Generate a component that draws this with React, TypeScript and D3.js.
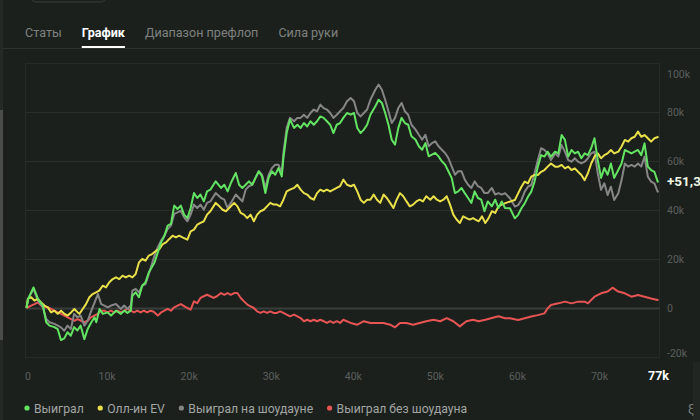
import { useRef, useEffect } from 'react';
import * as d3 from 'd3';

type Pt = [number, number]; // [hands (k), result (k)]

const tabs = ['Статы', 'График', 'Диапазон префлоп', 'Сила руки'];
const activeTab = 'График';
const xTicks = [0, 10, 20, 30, 40, 50, 60, 70];
const yTicks = [-20, 0, 20, 40, 60, 80, 100];
const lastHand = 77;
const currentLabel = '+51,3k';

// Выиграл
const won: Pt[] = [
    [0, 0], [0.2, 3.7], [0.85, 8.4], [1.4, 3.7], [2.0, 1.0], [2.4, -5.8], [2.8, -7.2], [3.4, -7.8], [3.8, -8.6], [4.2, -13.1],
    [4.6, -12.4], [5.0, -9.9], [5.4, -11.3], [5.8, -7.8], [6.2, -9.2], [6.6, -7.2], [7.05, -12.7], [7.45, -8.6], [7.9, -5.8], [8.3, -3.8],
    [8.5, -5.8], [8.9, -0.4], [9.3, -2.4], [9.9, -1.8], [10.3, -3.1], [10.9, -1.1], [11.5, -2.4], [11.9, -1.1], [12.3, -2.0], [12.7, -1.1],
    [12.9, 5.0], [13.3, 6.4], [13.7, 4.4], [14.1, 9.1], [14.5, 10.5], [14.9, 14.5], [15.6, 18.6], [16.0, 22.7], [16.4, 26.8], [16.8, 29.5],
    [17.2, 33.6], [17.6, 34.3], [18.0, 41.8], [18.4, 40.4], [18.8, 41.8], [19.2, 38.1], [19.6, 36.7], [20.0, 40.8], [20.4, 46.9], [20.8, 44.9],
    [21.2, 46.3], [21.6, 43.5], [22.0, 47.6], [22.4, 48.3], [23.05, 51.7], [23.7, 49.0], [24.1, 50.3], [24.5, 47.6], [24.9, 51.0], [25.5, 55.1],
    [25.9, 50.3], [26.3, 49.0], [26.7, 50.3], [27.1, 51.7], [27.5, 50.3], [27.9, 53.1], [28.3, 55.8], [28.7, 53.7], [29.1, 46.9], [29.5, 53.1],
    [29.9, 55.8], [30.3, 54.4], [30.7, 57.1], [31.1, 53.7], [31.3, 61.2], [31.7, 71.4], [32.1, 76.9], [32.6, 73.5], [33.0, 74.8], [33.4, 73.5],
    [33.8, 75.5], [34.2, 74.1], [34.6, 76.2], [35.0, 74.8], [35.4, 76.2], [35.8, 78.2], [36.2, 77.6], [36.6, 76.2], [37.0, 74.8], [37.4, 71.4],
    [37.8, 74.8], [38.2, 75.5], [38.6, 77.6], [39.05, 79.6], [39.5, 78.9], [39.9, 79.6], [40.3, 73.5], [40.7, 71.4], [41.1, 72.8], [41.5, 74.8],
    [41.9, 78.9], [42.5, 82.3], [42.9, 85.0], [43.3, 83.7], [43.7, 79.6], [44.1, 74.8], [44.5, 68.7], [44.9, 66.7], [45.3, 73.5], [45.7, 77.6],
    [46.1, 75.5], [46.5, 74.8], [46.9, 70.1], [47.4, 68.7], [47.8, 66.0], [48.2, 64.6], [48.6, 67.3], [49.0, 61.9], [49.4, 62.6], [49.8, 63.3],
    [50.2, 61.9], [50.6, 59.9], [51.0, 58.5], [51.4, 55.8], [51.8, 53.1], [52.2, 46.9], [52.6, 47.6], [53.0, 49.0], [53.4, 46.9], [53.8, 44.9],
    [54.2, 42.9], [54.6, 47.6], [55.0, 44.9], [55.4, 44.2], [55.8, 39.5], [56.2, 43.5], [56.7, 41.5], [57.1, 44.2], [57.5, 40.8], [57.9, 43.5],
    [58.3, 40.8], [58.9, 40.7], [59.5, 36.6], [59.9, 38.0], [60.3, 40.7], [60.7, 42.7], [61.1, 45.4], [61.5, 47.5], [61.9, 51.6], [62.3, 57.7],
    [62.7, 62.4], [63.1, 61.8], [63.5, 63.8], [63.9, 61.8], [64.4, 63.8], [64.8, 63.1], [65.2, 70.6], [65.6, 68.6], [66.0, 61.8], [66.4, 64.5],
    [66.8, 63.1], [67.2, 63.8], [67.6, 61.1], [68.0, 63.1], [68.4, 62.4], [68.8, 65.2], [69.2, 69.3], [69.6, 60.4], [70.0, 53.1], [70.4, 57.1],
    [70.8, 54.4], [71.2, 59.0], [71.6, 53.1], [72.1, 56.3], [72.5, 59.0], [72.9, 64.5], [73.3, 63.8], [73.7, 63.1], [74.1, 63.8], [74.5, 64.5],
    [74.9, 62.4], [75.3, 67.2], [75.7, 57.7], [76.1, 56.3], [76.5, 55.6], [76.9, 51.6], [77, 51.3],
];

// Олл-ин EV
const allInEv: Pt[] = [
    [0, 0], [0.16, 3.7], [0.57, 4.4], [0.97, 3.0], [1.38, 3.7], [1.78, 2.3], [2.19, 1.0], [2.59, 0.3], [3.0, -1.8], [3.4, -1.1],
    [3.81, -2.4], [4.21, -1.1], [4.62, -2.4], [5.02, -3.1], [5.43, -1.8], [5.83, -0.4], [6.24, -1.8], [6.44, -2.4], [6.85, -0.4], [7.25, 1.6],
    [7.66, 4.4], [8.06, 5.7], [8.47, 6.4], [8.87, 7.1], [9.28, 9.1], [9.68, 8.4], [10.09, 10.5], [10.5, 11.8], [10.9, 12.5], [11.3, 11.8],
    [11.7, 13.2], [12.1, 12.5], [12.5, 13.2], [12.9, 12.5], [13.3, 13.9], [13.7, 18.6], [14.1, 20.0], [14.5, 19.3], [14.9, 21.4], [15.3, 22.0],
    [15.8, 23.4], [16.2, 24.1], [16.6, 26.1], [17.0, 26.8], [17.4, 28.2], [17.8, 29.5], [18.2, 28.8], [18.6, 29.5], [19.0, 28.8], [19.6, 27.9],
    [20.0, 31.3], [20.4, 32.0], [20.8, 34.0], [21.2, 34.7], [21.6, 35.4], [22.0, 38.1], [22.4, 39.5], [23.05, 42.9], [23.5, 41.5], [23.9, 40.1],
    [24.3, 39.5], [24.7, 40.8], [25.3, 42.9], [25.7, 41.5], [26.1, 38.8], [26.5, 38.1], [26.9, 36.7], [27.3, 38.1], [27.7, 35.4], [28.1, 38.1],
    [28.5, 39.5], [28.9, 40.1], [29.3, 41.5], [29.7, 42.9], [30.1, 42.2], [30.5, 42.2], [30.9, 41.5], [31.3, 44.2], [31.7, 47.6], [32.1, 48.3],
    [32.6, 49.0], [33.0, 50.3], [33.4, 48.3], [33.8, 46.9], [34.2, 46.3], [34.6, 44.9], [35.0, 44.2], [35.4, 46.9], [35.8, 48.3], [36.2, 47.6],
    [36.6, 48.3], [37.0, 47.6], [37.4, 48.3], [37.8, 49.0], [38.2, 49.7], [38.6, 52.4], [39.05, 50.3], [39.5, 49.7], [39.9, 50.3], [40.3, 47.6],
    [40.7, 44.2], [41.1, 42.9], [41.5, 44.2], [41.9, 44.2], [42.3, 46.3], [42.7, 44.2], [43.1, 42.9], [43.5, 46.3], [43.9, 44.9], [44.3, 42.9],
    [44.7, 40.8], [45.1, 44.2], [45.5, 46.9], [45.9, 45.6], [46.3, 43.5], [46.7, 41.5], [47.1, 42.2], [47.5, 43.5], [47.9, 44.2], [48.3, 43.5],
    [48.7, 45.6], [49.2, 44.2], [49.6, 45.6], [50.0, 44.2], [50.4, 43.5], [50.8, 44.2], [51.2, 45.6], [51.6, 42.2], [52.0, 38.1], [52.4, 36.1],
    [52.8, 34.7], [53.2, 37.4], [53.6, 36.7], [54.0, 36.1], [54.4, 36.7], [54.7, 36.1], [55.1, 35.4], [55.5, 37.4], [55.9, 34.7], [56.3, 36.7],
    [56.7, 39.5], [57.1, 38.8], [57.5, 41.5], [57.9, 42.2], [58.5, 43.0], [59.5, 44.1], [59.9, 46.8], [60.3, 49.5], [60.7, 51.6], [61.1, 50.9],
    [61.5, 53.6], [61.9, 54.3], [62.3, 54.3], [62.7, 55.6], [63.1, 56.3], [63.5, 57.7], [63.9, 59.0], [64.4, 57.7], [64.8, 57.7], [65.2, 58.4],
    [65.6, 57.0], [66.0, 57.7], [66.4, 56.3], [66.8, 57.0], [67.2, 55.6], [67.6, 54.3], [68.0, 52.2], [68.4, 55.0], [68.8, 59.0], [69.2, 61.8],
    [69.6, 63.1], [70.0, 61.1], [70.4, 62.4], [70.8, 63.1], [71.2, 64.5], [71.6, 63.1], [72.1, 63.8], [72.5, 65.9], [72.9, 68.6], [73.3, 67.9],
    [73.7, 69.3], [74.1, 69.9], [74.5, 72.0], [74.9, 69.9], [75.3, 70.6], [75.7, 69.3], [76.1, 67.9], [76.5, 69.3], [77, 69.9],
];

// Выиграл на шоудауне
const showdown: Pt[] = [
    [0, 0], [0.2, 3.7], [0.85, 7.8], [1.4, 3.0], [2.0, 0.3], [2.4, -4.5], [2.8, -5.8], [3.4, -6.5], [3.8, -7.2], [4.2, -7.9],
    [4.6, -9.3], [5.0, -7.2], [5.4, -8.6], [5.8, -2.4], [6.2, -3.8], [6.6, -3.1], [7.05, -7.2], [7.45, -5.2], [7.9, -1.1], [8.3, 2.3],
    [8.7, 5.7], [9.1, 1.6], [9.5, 1.0], [9.9, 0.3], [10.3, 1.0], [10.9, 1.6], [11.5, -0.4], [11.9, 1.0], [12.3, -0.4], [12.7, 1.0],
    [12.9, 7.1], [13.3, 7.8], [13.7, 6.4], [14.1, 9.1], [14.5, 9.8], [14.9, 13.9], [15.6, 21.4], [16.0, 24.8], [16.4, 27.5], [16.8, 29.5],
    [17.2, 32.2], [17.6, 33.6], [18.0, 38.4], [18.4, 39.0], [18.8, 39.7], [19.2, 37.0], [19.6, 35.4], [20.0, 38.1], [20.4, 42.2], [20.8, 40.8],
    [21.2, 42.2], [21.6, 40.1], [22.0, 42.9], [22.4, 43.5], [23.05, 46.9], [23.7, 44.9], [24.1, 44.2], [24.5, 40.8], [24.9, 42.9], [25.5, 46.3],
    [25.9, 44.9], [26.3, 43.5], [26.7, 48.3], [27.1, 49.7], [27.5, 50.3], [27.9, 53.1], [28.3, 55.8], [28.7, 54.4], [29.1, 49.0], [29.5, 54.4],
    [29.9, 57.1], [30.3, 58.5], [30.7, 58.5], [31.1, 55.1], [31.3, 63.3], [31.7, 73.5], [32.1, 77.6], [32.6, 76.2], [33.0, 77.6], [33.4, 77.6],
    [33.8, 78.9], [34.2, 77.6], [34.6, 79.6], [35.0, 81.0], [35.4, 80.3], [35.8, 83.0], [36.2, 81.6], [36.6, 81.0], [37.0, 79.6], [37.4, 77.6],
    [37.8, 78.9], [38.2, 80.3], [38.6, 81.6], [39.05, 84.4], [39.5, 85.7], [39.9, 84.4], [40.3, 79.6], [40.7, 78.2], [41.1, 79.6], [41.5, 81.0],
    [41.9, 85.0], [42.5, 89.1], [42.9, 91.2], [43.3, 89.1], [43.7, 85.0], [44.1, 80.3], [44.5, 75.5], [44.9, 77.6], [45.3, 81.6], [45.7, 83.7],
    [46.1, 80.3], [46.5, 78.9], [46.9, 74.8], [47.4, 72.8], [47.8, 70.7], [48.2, 68.7], [48.6, 70.7], [49.0, 66.0], [49.4, 67.3], [49.8, 68.0],
    [50.2, 66.0], [50.6, 64.6], [51.0, 63.3], [51.4, 61.2], [51.8, 57.8], [52.2, 54.4], [52.6, 55.8], [53.0, 55.8], [53.4, 52.4], [53.8, 50.3],
    [54.2, 49.0], [54.6, 51.7], [55.0, 49.7], [55.4, 49.0], [55.8, 46.9], [56.2, 46.9], [56.7, 49.0], [57.1, 46.3], [57.5, 46.9], [57.9, 46.3],
    [58.3, 46.9], [58.9, 44.8], [59.5, 41.4], [59.9, 42.0], [60.3, 44.1], [60.7, 47.5], [61.1, 49.5], [61.5, 50.2], [61.9, 55.0], [62.3, 60.4],
    [62.7, 65.2], [63.1, 64.5], [63.5, 63.1], [63.9, 60.4], [64.4, 63.1], [64.8, 61.8], [65.2, 66.5], [65.6, 63.8], [66.0, 60.4], [66.4, 59.7],
    [66.8, 61.1], [67.2, 59.7], [67.6, 59.0], [68.0, 59.7], [68.4, 61.1], [68.8, 63.1], [69.2, 63.8], [69.6, 55.0], [70.0, 48.2], [70.4, 50.9],
    [70.8, 46.1], [71.2, 49.5], [71.6, 44.1], [72.1, 46.8], [72.5, 52.2], [72.9, 59.0], [73.3, 57.7], [73.7, 58.4], [74.1, 57.7], [74.5, 59.0],
    [74.9, 57.7], [75.3, 61.8], [75.7, 53.6], [76.1, 51.6], [76.5, 50.9], [76.9, 47.5], [77, 47.8],
];

// Выиграл без шоудауна
const nonShowdown: Pt[] = [
    [0, 0], [0.16, 0.3], [0.57, 1.0], [0.97, 1.6], [1.38, 2.3], [1.78, 1.0], [2.19, 0.3], [2.59, 0.3], [3.0, -0.4], [3.4, -1.1],
    [3.81, -1.8], [4.21, -2.4], [4.62, -3.1], [5.02, -3.8], [5.43, -4.5], [5.83, -5.2], [6.24, -4.5], [6.64, -5.2], [7.05, -5.8], [7.45, -5.2],
    [7.86, -3.8], [8.26, -3.1], [8.67, -2.4], [9.07, -1.1], [9.48, -1.1], [9.88, -1.8], [10.29, -1.1], [10.7, -1.8], [11.1, -1.1], [11.5, -1.8],
    [11.9, -1.1], [12.3, -0.4], [12.7, -1.1], [13.1, -1.8], [13.5, -1.1], [13.9, -1.8], [14.3, -1.1], [14.7, -1.8], [15.1, -1.1], [15.5, -1.5],
    [16.0, -3.1], [16.4, -1.8], [16.8, -1.1], [17.2, -0.4], [17.6, -1.1], [18.0, 0.3], [18.4, 1.0], [18.8, 1.6], [19.2, 0.8], [19.6, 0],
    [20.0, -0.7], [20.4, 2.7], [20.8, 2.0], [21.2, 4.1], [21.6, 4.8], [22.0, 5.4], [22.4, 4.8], [22.8, 4.1], [23.2, 4.8], [23.7, 6.1],
    [24.1, 5.4], [24.5, 6.1], [24.9, 5.4], [25.3, 6.1], [25.7, 6.1], [26.1, 4.1], [26.5, 2.7], [26.9, 1.4], [27.3, 0.7], [27.7, 0],
    [28.1, -1.4], [28.5, -2.0], [28.9, -1.4], [29.3, -2.0], [29.7, -1.4], [30.1, -2.0], [30.5, -2.0], [30.9, -1.4], [31.3, -2.0], [31.7, -2.7],
    [32.1, -3.4], [32.6, -2.7], [33.0, -3.4], [33.4, -4.1], [33.8, -5.4], [34.2, -4.8], [34.6, -5.4], [35.0, -4.8], [35.4, -5.4], [35.8, -4.8],
    [36.2, -5.4], [36.6, -6.1], [37.0, -5.4], [37.4, -6.1], [37.8, -5.4], [38.2, -6.1], [38.6, -4.8], [39.5, -6.1], [40.3, -6.8], [41.1, -5.4],
    [41.9, -6.1], [42.7, -6.1], [43.5, -6.1], [44.3, -6.8], [44.9, -7.9], [45.5, -6.1], [46.3, -6.1], [47.1, -6.8], [47.9, -6.1], [48.7, -5.4],
    [49.6, -4.8], [50.4, -5.4], [51.2, -4.1], [52.0, -5.4], [52.8, -7.5], [53.6, -5.4], [54.4, -4.8], [55.1, -5.4], [55.9, -4.8], [56.7, -4.1],
    [57.5, -3.4], [58.3, -4.2], [58.9, -4.2], [59.9, -4.9], [60.7, -4.2], [61.5, -3.5], [62.3, -2.9], [63.1, -2.2], [63.5, -0.1], [63.9, 1.2],
    [64.8, 1.9], [65.6, 2.6], [66.4, 1.9], [67.2, 2.6], [68.0, 2.6], [68.4, 1.9], [69.2, 4.6], [70.0, 6.0], [70.8, 6.7], [71.4, 8.3],
    [72.1, 6.7], [72.9, 6.0], [73.7, 4.6], [74.5, 5.3], [75.3, 4.6], [76.1, 3.9], [76.9, 3.3], [77, 3.3],
];

const seriesNames = ['Выиграл', 'Олл-ин EV', 'Выиграл на шоудауне', 'Выиграл без шоудауна'];
const seriesData = [won, allInEv, showdown, nonShowdown];
const seriesColors = ['#62e462', '#e9e04a', '#868686', '#e65454'];
const drawOrder = [3, 2, 1, 0];

const W = 700;
const H = 420;
const BG = '#1c201d';
const FONT = "Roboto, 'Noto Sans', sans-serif";

const App = () => {
    const svgRef = useRef<SVGSVGElement | null>(null);

    useEffect(() => {
        if (!svgRef.current) return;
        const svg = d3.select(svgRef.current);
        svg.selectAll('*').remove();

        svg.append('rect').attr('width', W).attr('height', H).attr('fill', BG);

        // left scrollbar
        svg.append('rect').attr('x', 0).attr('y', 0).attr('width', 3).attr('height', H).attr('fill', '#262a27');
        svg.append('rect').attr('x', 0).attr('y', 110).attr('width', 3).attr('height', 230).attr('fill', '#4a4d4b');

        // cut-off button at the top
        svg.append('rect')
            .attr('x', 30.5).attr('y', -20).attr('width', 76).attr('height', 22).attr('rx', 6)
            .attr('fill', 'none').attr('stroke', '#393d3a');

        // tabs
        svg.append('line')
            .attr('x1', 3).attr('x2', W).attr('y1', 48.5).attr('y2', 48.5)
            .attr('stroke', '#2f3330');
        let tx = 25;
        tabs.forEach(t => {
            const active = t === activeTab;
            const el = svg.append('text')
                .attr('x', tx).attr('y', 37)
                .attr('font-family', FONT)
                .attr('font-size', 12.6)
                .attr('font-weight', active ? 700 : 400)
                .attr('fill', active ? '#ffffff' : '#7e817f')
                .text(t);
            const len = (el.node() as SVGTextElement).getComputedTextLength();
            if (active) {
                svg.append('rect').attr('x', tx).attr('y', 46).attr('width', len).attr('height', 2).attr('fill', '#ffffff');
            }
            tx += len + 20;
        });

        // scales
        const xScale = d3.scaleLinear().domain([0, lastHand]).range([26.5, 658.5]);
        const yScale = d3.scaleLinear().domain([-20, 100]).range([357, 63]);

        // frame + grid
        svg.append('rect')
            .attr('x', 25.5).attr('y', 63.5).attr('width', 634).attr('height', 294)
            .attr('fill', 'none').attr('stroke', '#272b28');
        svg.append('g')
            .selectAll('line')
            .data(yTicks.filter(d => d > -20 && d < 100))
            .join('line')
            .attr('x1', 25.5).attr('x2', 659.5)
            .attr('y1', d => Math.round(yScale(d)) + 0.5)
            .attr('y2', d => Math.round(yScale(d)) + 0.5)
            .attr('stroke', d => d === 0 ? '#3a3e3b' : '#2b2f2c')
            .attr('stroke-width', d => d === 0 ? 2 : 1);

        // y labels
        svg.append('g')
            .selectAll('text')
            .data(yTicks)
            .join('text')
            .attr('x', 667)
            .attr('y', d => Math.max(74, Math.min(353, yScale(d))))
            .attr('dy', '0.35em')
            .attr('font-family', FONT)
            .attr('font-size', 10.5)
            .attr('fill', '#5b5f5c')
            .text(d => d === 0 ? '0' : `${d}k`);

        // x labels
        svg.append('g')
            .selectAll('text')
            .data(xTicks)
            .join('text')
            .attr('x', d => Math.max(28, xScale(d) - 1.5))
            .attr('y', 380)
            .attr('text-anchor', 'middle')
            .attr('font-family', FONT)
            .attr('font-size', 10.5)
            .attr('fill', '#5b5f5c')
            .text(d => d === 0 ? '0' : `${d}k`);
        svg.append('text')
            .attr('x', xScale(lastHand)).attr('y', 380)
            .attr('text-anchor', 'middle')
            .attr('font-family', FONT)
            .attr('font-size', 12.5)
            .attr('font-weight', 700)
            .attr('fill', '#ffffff')
            .text(`${lastHand}k`);

        // lines
        const line = d3.line<Pt>()
            .x(d => xScale(d[0]))
            .y(d => yScale(d[1]));
        drawOrder.forEach(i => {
            svg.append('path')
                .datum(seriesData[i])
                .attr('fill', 'none')
                .attr('stroke', seriesColors[i])
                .attr('stroke-width', 2)
                .attr('stroke-linejoin', 'round')
                .attr('d', line);
        });

        // current value (cut by the right edge, as on screen)
        const last = won[won.length - 1];
        svg.append('text')
            .attr('x', 667).attr('y', yScale(last[1]) - 1)
            .attr('dy', '0.35em')
            .attr('font-family', FONT)
            .attr('font-size', 13.5)
            .attr('font-weight', 700)
            .attr('fill', '#eef6e4')
            .text(currentLabel);

        // legend
        let lx = 27;
        seriesNames.forEach((name, i) => {
            svg.append('circle').attr('cx', lx).attr('cy', 408).attr('r', 2.6).attr('fill', seriesColors[i]);
            const el = svg.append('text')
                .attr('x', lx + 7).attr('y', 412.5)
                .attr('font-family', FONT)
                .attr('font-size', 12.2)
                .attr('fill', '#a2a5a3')
                .text(name);
            const len = (el.node() as SVGTextElement).getComputedTextLength();
            lx += 7 + len + 16.5;
        });

        // right-bottom corner bits
        svg.append('rect').attr('x', 693).attr('y', 362).attr('width', 7).attr('height', 58).attr('fill', '#222623');
        svg.append('text')
            .attr('x', 688).attr('y', 413)
            .attr('font-family', FONT).attr('font-size', 12).attr('fill', '#7e817f')
            .text('ξ');
    }, []);

    return (
        <div style={{ position: 'fixed', left: 0, top: 0, width: W, height: H, overflow: 'hidden', background: BG }}>
            <svg ref={svgRef} width={W} height={H} style={{ display: 'block' }}></svg>
        </div>
    );
};

export default App;
